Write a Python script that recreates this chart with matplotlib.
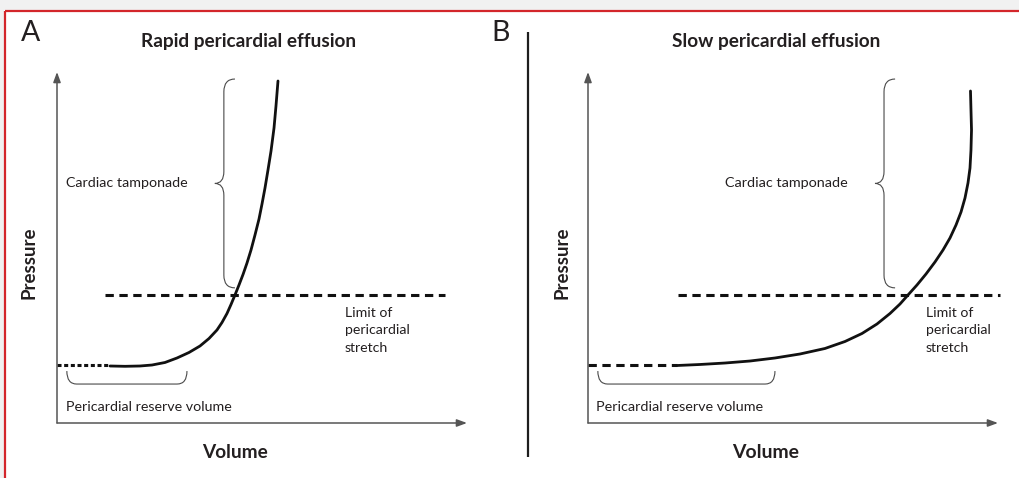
import matplotlib
matplotlib.use("Agg")
import matplotlib.pyplot as plt
from matplotlib.path import Path
from matplotlib.patches import PathPatch

plt.rcParams['font.family'] = ['Lato', 'DejaVu Sans']
plt.rcParams['lines.scale_dashes'] = False
BODY_FONT = ['Liberation Sans Narrow', 'Lato', 'DejaVu Sans']

# ---------------- data (Volume / Pressure in arbitrary units, 0-100) ----------------
panel_labels = ["A", "B"]
panel_titles = ["Rapid pericardial effusion", "Slow pericardial effusion"]
x_label = "Volume"
y_label = "Pressure"
tamponade_text = "Cardiac tamponade"
limit_text = "Limit of\npericardial\nstretch"
reserve_text = "Pericardial reserve volume"

# Rapid effusion curve
rapid_volume = [12.93, 16.59, 20.24, 23.17, 26.34, 29.27, 32.20, 34.88, 37.07, 39.02,
                40.24, 41.46, 42.44, 43.41, 44.39, 45.37, 46.34, 47.32, 48.29, 49.27,
                50.00, 50.73, 51.46, 52.20, 52.93, 53.41, 53.90]
rapid_pressure = [16.24, 16.15, 16.24, 16.52, 17.24, 18.52, 20.09, 21.94, 24.07, 26.50,
                  28.63, 31.20, 33.76, 36.47, 39.32, 42.31, 45.58, 49.29, 53.56, 58.12,
                  62.39, 66.95, 72.08, 77.49, 84.05, 90.31, 97.44]
# Slow effusion curve
slow_volume = [21.71, 27.32, 33.41, 39.51, 45.61, 51.71, 57.80, 62.68, 66.83, 70.49,
               73.66, 76.10, 78.05, 80.24, 82.44, 84.63, 86.59, 88.29, 89.76, 90.98,
               91.95, 92.68, 93.17, 93.41, 93.54, 93.41, 93.29]
slow_pressure = [16.38, 16.67, 17.09, 17.66, 18.52, 19.66, 21.23, 23.22, 25.50, 28.21,
                 31.20, 33.90, 36.47, 39.32, 42.45, 45.87, 49.29, 52.71, 56.41, 60.11,
                 64.10, 68.38, 72.65, 77.78, 83.48, 89.17, 94.59]

baseline_pressure = [16.5, 16.6]          # resting pressure (dashed start) per panel
baseline_volume_end = [12.9, 21.7]        # end of the flat baseline per panel
limit_pressure = 36.5                     # limit of pericardial stretch
limit_volume_range = [(11.7, 94.6), (22.0, 100.5)]

# annotation extents
tamponade_brace_x = [40.7, 72.2]
tamponade_brace_p = (38.5, 98.0)
reserve_brace_v = [(2.4, 31.7), (2.4, 45.6)]
reserve_brace_p = (14.8, 11.1)

# ---------------- figure ----------------
W, H = 1019, 478
fig = plt.figure(figsize=(W / 100, H / 100), dpi=100)
fig.patch.set_facecolor("white")
renderer = fig.canvas.get_renderer()

ov = fig.add_axes([0, 0, 1, 1])
ov.set_xlim(0, W)
ov.set_ylim(H, 0)
ov.axis("off")
ov.add_patch(plt.Rectangle((0, 0), W, 9.5, color="#f1f1f1", lw=0))
ov.add_patch(plt.Rectangle((0, 0), 4.5, H, color="#f1f1f1", lw=0))
ov.plot([5, W], [11, 11], color="#d3262b", lw=1.6, solid_capstyle="butt")
ov.plot([5, 5], [11, H], color="#d3262b", lw=1.6, solid_capstyle="butt")
ov.plot([528, 528], [32, 457], color="#1e1e1e", lw=1.6, solid_capstyle="butt")

TXT = "#231f20"


def fit_text(x, y, s, width, rotation=0, **kw):
    t = fig.text(x / W, 1 - y / H, s, fontsize=10, color=TXT, rotation=rotation, **kw)
    bb = t.get_window_extent(renderer)
    w = bb.height if rotation else bb.width
    t.set_fontsize(10 * width / w)
    return t


def set_pitch(t, pitch_px):
    t.set_linespacing(1.0)
    h1 = t.get_window_extent(renderer).height
    t.set_linespacing(2.0)
    h2 = t.get_window_extent(renderer).height
    d = (h2 - h1) / 2.0
    t.set_linespacing(pitch_px / d)


ax_left_px = [57, 588]
ax_bottom_px, ax_top_px, ax_w_px = 423, 72, 410

text_cfg = {
    "label": [(21, 20), (491, 20)],
    "title": [(248.5, 47, 217), (776.5, 47, 209)],
    "tamp": [(66, 187, 122), (725, 187, 123)],
    "limit": [(345, 307, 65), (926, 307, 65)],
    "reserve": [(66, 411, 166), (596, 411, 167)],
    "xlab": [(235, 458, 66), (765.5, 458, 67)],
    "ylab": [(29, 263, 73), (562, 263, 73)],
}

for i in range(2):
    ax = fig.add_axes([ax_left_px[i] / W, 1 - ax_bottom_px / H,
                       ax_w_px / W, (ax_bottom_px - ax_top_px) / H])
    ax.set_xlim(0, 100)
    ax.set_ylim(0, 100)
    ax.axis("off")

    arrow = dict(arrowstyle="-|>,head_length=0.6,head_width=0.22", color="#555555",
                 lw=1.1, shrinkA=0, shrinkB=0)
    ax.annotate("", xy=(100, 0), xytext=(0, 0), arrowprops=arrow, annotation_clip=False)
    ax.annotate("", xy=(0, 100), xytext=(0, 0), arrowprops=arrow, annotation_clip=False)

    if i == 0:
        ax.plot([0, baseline_volume_end[i]], [baseline_pressure[i]] * 2, color="#111111",
                lw=2.2, dashes=(2.9, 1.9), clip_on=False)
    else:
        ax.plot([0, baseline_volume_end[i]], [baseline_pressure[i]] * 2, color="#111111",
                lw=2.2, dashes=(6.0, 4.0), clip_on=False)
    ax.plot(list(limit_volume_range[i]), [limit_pressure] * 2, color="#111111",
            lw=2.2, dashes=(6.0, 4.0), clip_on=False)

    vol = rapid_volume if i == 0 else slow_volume
    pres = rapid_pressure if i == 0 else slow_pressure
    ax.plot(vol, pres, color="#111111", lw=2.0, solid_capstyle="round",
            solid_joinstyle="round", clip_on=False)

    # tamponade brace (vertical, pointing left)
    xs = tamponade_brace_x[i]
    xh = xs + 2.7
    xt = xs - 2.2
    y0, y1 = tamponade_brace_p
    ym = (y0 + y1) / 2
    r1, r2 = 3.6, 3.4
    verts = [(xh, y1), (xs, y1), (xs, y1 - r1),
             (xs, ym + r2), (xs, ym), (xt, ym),
             (xs, ym), (xs, ym - r2),
             (xs, y0 + r1), (xs, y0), (xh, y0)]
    codes = [Path.MOVETO, Path.CURVE3, Path.CURVE3,
             Path.LINETO, Path.CURVE3, Path.CURVE3,
             Path.CURVE3, Path.CURVE3,
             Path.LINETO, Path.CURVE3, Path.CURVE3]
    ax.add_patch(PathPatch(Path(verts, codes), fill=False, edgecolor="#4a4a4a",
                           lw=0.8, clip_on=False))

    # reserve brace (horizontal bracket, rounded ends)
    v0, v1 = reserve_brace_v[i]
    ptop, pbot = reserve_brace_p
    rx = 2.4
    verts = [(v0, ptop), (v0, pbot), (v0 + rx, pbot),
             (v1 - rx, pbot), (v1, pbot), (v1, ptop)]
    codes = [Path.MOVETO, Path.CURVE3, Path.CURVE3,
             Path.LINETO, Path.CURVE3, Path.CURVE3]
    ax.add_patch(PathPatch(Path(verts, codes), fill=False, edgecolor="#4a4a4a",
                           lw=0.8, clip_on=False))

    lx, ly = text_cfg["label"][i]
    fig.text(lx / W, 1 - ly / H, panel_labels[i], fontsize=20.5, color=TXT,
             ha="left", va="top")
    tx, ty, tw = text_cfg["title"][i]
    fit_text(tx, ty, panel_titles[i], tw, ha="center", va="baseline", weight="bold")
    tx, ty, tw = text_cfg["tamp"][i]
    fit_text(tx, ty, tamponade_text, tw, ha="left", va="baseline", family=BODY_FONT)
    tx, ty, tw = text_cfg["limit"][i]
    t = fit_text(tx, ty, limit_text, tw, ha="left", va="top", family=BODY_FONT)
    set_pitch(t, 15.5)
    tx, ty, tw = text_cfg["reserve"][i]
    fit_text(tx, ty, reserve_text, tw, ha="left", va="baseline", family=BODY_FONT)
    tx, ty, tw = text_cfg["xlab"][i]
    fit_text(tx, ty, x_label, tw, ha="center", va="baseline", weight="bold")
    tx, ty, tw = text_cfg["ylab"][i]
    fit_text(tx, ty, y_label, tw, rotation=90, ha="center", va="center", weight="bold")

fig.savefig("out.png", dpi=100, facecolor="white")
